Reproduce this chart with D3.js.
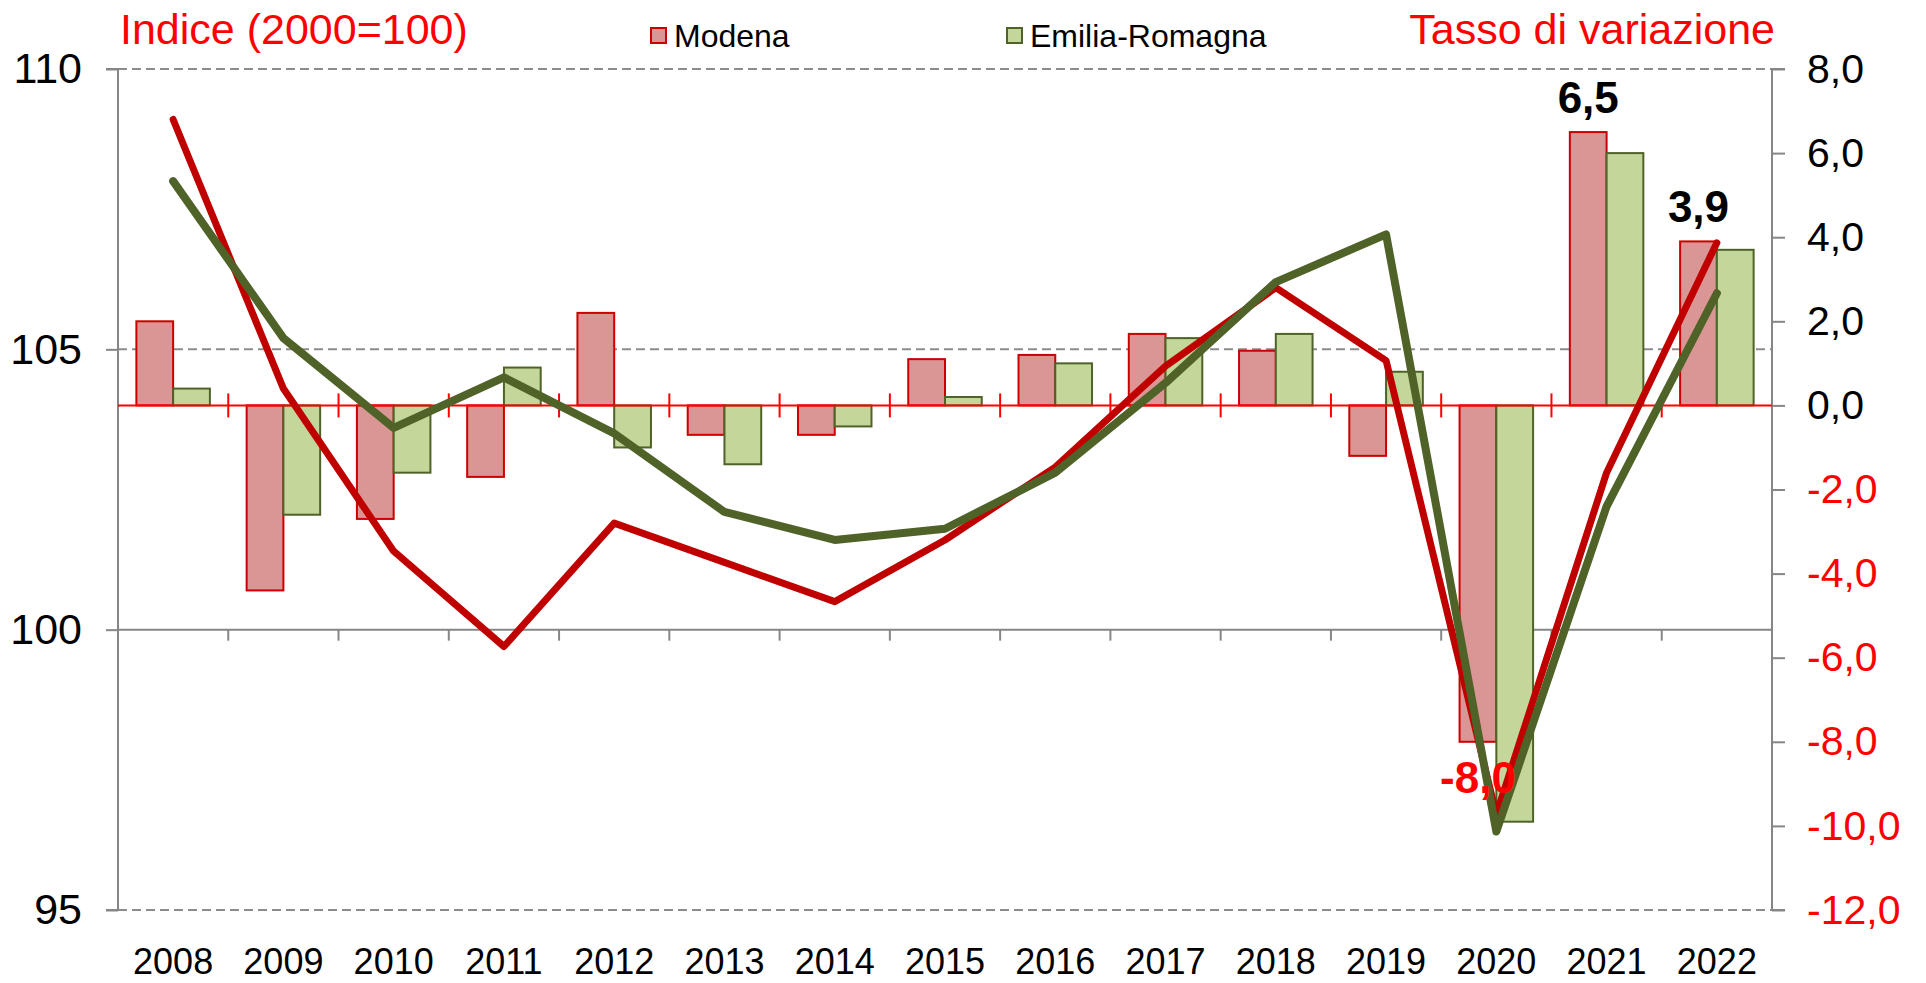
<!DOCTYPE html>
<html>
<head>
<meta charset="utf-8">
<script src="https://cdn.jsdelivr.net/npm/d3@7"></script>
<style>
  html, body { margin: 0; padding: 0; background: #fff; }
  svg { display: block; font-family: "Liberation Sans", Arial, sans-serif; }
</style>
</head>
<body>
<svg id="chart"></svg>
<script>
// data
const years = ["2008","2009","2010","2011","2012","2013","2014","2015","2016","2017","2018","2019","2020","2021","2022"];
// tasso di variazione (right axis, bars)
const modenaVar = [2.0, -4.4, -2.7, -1.7, 2.2, -0.7, -0.7, 1.1, 1.2, 1.7, 1.3, -1.2, -8.0, 6.5, 3.9];
const emiliaVar = [0.4, -2.6, -1.6, 0.9, -1.0, -1.4, -0.5, 0.2, 1.0, 1.6, 1.7, 0.8, -9.9, 6.0, 3.7];
// indice 2000=100 (left axis, lines)
const modenaIdx = [109.1, 104.3, 101.4, 99.7, 101.9, 101.2, 100.5, 101.6, 102.9, 104.7, 106.1, 104.8, 96.7, 102.8, 106.9];
const emiliaIdx = [108.0, 105.2, 103.6, 104.5, 103.5, 102.1, 101.6, 101.8, 102.8, 104.4, 106.2, 107.05, 96.4, 102.2, 106.0];
const leftTicks = [95, 100, 105, 110];
const rightTicks = [-12, -10, -8, -6, -4, -2, 0, 2, 4, 6, 8];
const labelYears = ["2020", "2021", "2022"];   // Modena bars with a value label
const seriesNames = ["Modena", "Emilia-Romagna"];

const width = 1926, height = 983;
const marginLeft = 118, marginRight = 154, marginTop = 69, marginBottom = 73;

const colors = {
  modenaFill: "#D99694", modenaStroke: "#CC0000", modenaLine: "#C00000",
  emiliaFill: "#C4D79B", emiliaStroke: "#4F6228", emiliaLine: "#4F6228",
  grid: "#8C8C8C", axis: "#868686", red: "#FF0000"
};

const it = d3.formatLocale({decimal: ",", thousands: ".", grouping: [3], currency: ["", "€"]});
const fmt1 = it.format(".1f");

const svg = d3.select("#chart")
  .attr("width", width)
  .attr("height", height)
  .attr("viewBox", [0, 0, width, height]);

const x = d3.scaleBand().domain(years).range([marginLeft, width - marginRight]).padding(0);
const xs = d3.scaleBand().domain(seriesNames).range([0, x.bandwidth()]).paddingInner(0).paddingOuter(0.5);
const yL = d3.scaleLinear().domain([95, 110]).range([height - marginBottom, marginTop]);
const yR = d3.scaleLinear().domain([-12, 8]).range([height - marginBottom, marginTop]);

const left = marginLeft, right = width - marginRight;

// gridlines (left axis)
svg.append("g")
  .selectAll("line")
  .data(leftTicks)
  .join("line")
    .attr("x1", left).attr("x2", right)
    .attr("y1", d => yL(d)).attr("y2", d => yL(d))
    .attr("stroke", d => d === 100 ? colors.axis : colors.grid)
    .attr("stroke-width", 2)
    .attr("stroke-dasharray", d => d === 100 ? null : "9,5");

// category axis at 100 (gray ticks down)
const boundaries = d3.range(1, years.length).map(i => x(years[i]));
svg.append("g")
  .selectAll("line")
  .data(boundaries)
  .join("line")
    .attr("x1", d => d).attr("x2", d => d)
    .attr("y1", yL(100)).attr("y2", yL(100) + 11)
    .attr("stroke", colors.axis)
    .attr("stroke-width", 2);

// left axis
const gL = svg.append("g").attr("transform", `translate(${left},0)`)
  .call(d3.axisLeft(yL).tickValues(leftTicks).tickSize(12).tickPadding(24).tickFormat(d3.format("d")));
gL.select(".domain").attr("stroke", colors.axis).attr("stroke-width", 2).attr("d", `M-12,${yL(110)}H0V${yL(95)}H-12`);
gL.selectAll(".tick line").attr("stroke", colors.axis).attr("stroke-width", 2);
gL.selectAll(".tick text").attr("font-size", 43).attr("fill", "#000").attr("font-family", "Liberation Sans, Arial, sans-serif");

// right axis
const gR = svg.append("g").attr("transform", `translate(${right},0)`)
  .call(d3.axisRight(yR).tickValues(rightTicks).tickSize(13).tickPadding(22).tickFormat(d => fmt1(d).replace("−", "-")));
gR.select(".domain").attr("stroke", colors.axis).attr("stroke-width", 2).attr("d", `M13,${yR(8)}H0V${yR(-12)}H13`);
gR.selectAll(".tick line").attr("stroke", colors.axis).attr("stroke-width", 2);
gR.selectAll(".tick text").attr("font-size", 41).attr("fill", d => d < 0 ? colors.red : "#000").attr("font-family", "Liberation Sans, Arial, sans-serif");

// bars
const barData = years.map((y, i) => [
  {year: y, key: "Modena", v: modenaVar[i]},
  {year: y, key: "Emilia-Romagna", v: emiliaVar[i]}
]).flat();

svg.append("g")
  .selectAll("rect")
  .data(barData)
  .join("rect")
    .attr("x", d => x(d.year) + xs(d.key))
    .attr("width", xs.bandwidth())
    .attr("y", d => yR(Math.max(0, d.v)))
    .attr("height", d => Math.abs(yR(d.v) - yR(0)))
    .attr("fill", d => d.key === "Modena" ? colors.modenaFill : colors.emiliaFill)
    .attr("stroke", d => d.key === "Modena" ? colors.modenaStroke : colors.emiliaStroke)
    .attr("stroke-width", 2);

// red zero axis with cross ticks
svg.append("line")
  .attr("x1", left).attr("x2", right)
  .attr("y1", yR(0)).attr("y2", yR(0))
  .attr("stroke", colors.red).attr("stroke-width", 2);
svg.append("g")
  .selectAll("line")
  .data(boundaries)
  .join("line")
    .attr("x1", d => d).attr("x2", d => d)
    .attr("y1", yR(0) - 12).attr("y2", yR(0) + 12)
    .attr("stroke", colors.red)
    .attr("stroke-width", 2);

// lines
const line = d3.line()
  .x((d, i) => x(years[i]) + x.bandwidth() / 2)
  .y(d => yL(d));

svg.append("path")
  .datum(modenaIdx)
  .attr("d", line)
  .attr("fill", "none")
  .attr("stroke", colors.modenaLine)
  .attr("stroke-width", 7)
  .attr("stroke-linejoin", "round")
  .attr("stroke-linecap", "round");

svg.append("path")
  .datum(emiliaIdx)
  .attr("d", line)
  .attr("fill", "none")
  .attr("stroke", colors.emiliaLine)
  .attr("stroke-width", 8)
  .attr("stroke-linejoin", "round")
  .attr("stroke-linecap", "round");

// value labels on Modena bars
svg.append("g")
  .selectAll("text")
  .data(labelYears.map(y => ({year: y, v: modenaVar[years.indexOf(y)]})))
  .join("text")
    .attr("x", d => x(d.year) + xs("Modena") + xs.bandwidth() / 2)
    .attr("y", d => d.v >= 0 ? yR(d.v) - 19 : yR(d.v) + 51)
    .attr("text-anchor", "middle")
    .attr("font-size", 44)
    .attr("font-weight", "bold")
    .attr("fill", d => d.v < 0 ? colors.red : "#000")
    .text(d => fmt1(d.v).replace("−", "-"));

// category labels
svg.append("g")
  .selectAll("text")
  .data(years)
  .join("text")
    .attr("x", d => x(d) + x.bandwidth() / 2)
    .attr("y", 974)
    .attr("text-anchor", "middle")
    .attr("font-size", 36)
    .attr("fill", "#000")
    .text(d => d);

// axis titles
svg.append("text")
  .attr("x", 120).attr("y", 44)
  .attr("font-size", 43)
  .attr("fill", colors.red)
  .text("Indice (2000=100)");

svg.append("text")
  .attr("x", 1775).attr("y", 44)
  .attr("text-anchor", "end")
  .attr("font-size", 43)
  .attr("fill", colors.red)
  .text("Tasso di variazione");

// legend
const legendX = [651, 1007];
const legend = svg.append("g")
  .selectAll("g")
  .data(seriesNames)
  .join("g")
    .attr("transform", (d, i) => `translate(${legendX[i]},0)`);
legend.append("rect")
  .attr("x", 0).attr("y", 28).attr("width", 15).attr("height", 15)
  .attr("fill", (d, i) => i === 0 ? colors.modenaFill : colors.emiliaFill)
  .attr("stroke", (d, i) => i === 0 ? colors.modenaStroke : colors.emiliaStroke)
  .attr("stroke-width", 2);
legend.append("text")
  .attr("x", 23).attr("y", 47)
  .attr("font-size", 32)
  .attr("fill", "#000")
  .text(d => d);
</script>
</body>
</html>
